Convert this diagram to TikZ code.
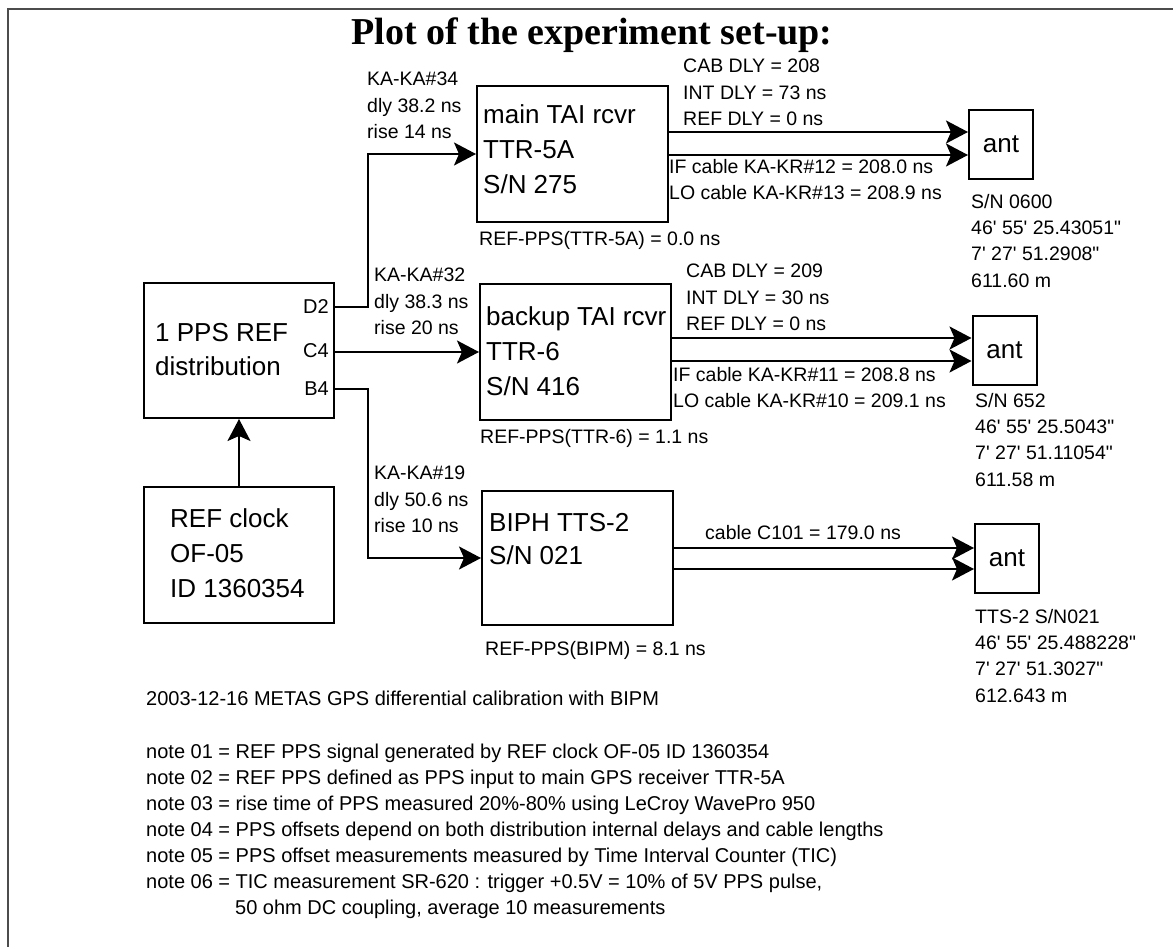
\documentclass[tikz,border=0pt]{standalone}
\usepackage{fontspec}
\newfontfamily\labfont{Liberation Sans}
\newfontfamily\titlefont{Liberation Serif}
\usetikzlibrary{arrows.meta}
\tikzset{
  box/.style={draw, line width=2pt, inner sep=0pt, minimum width=191pt, minimum height=136pt},
  antbox/.style={draw, line width=2pt, inner sep=0pt, minimum width=64pt, minimum height=69pt,
                 font=\labfont\fontsize{26}{30}\selectfont},
  lbl/.style={font=\labfont\fontsize{19.5}{26.3}\selectfont, inner sep=0pt, anchor=north west, align=left},
  big/.style={font=\labfont\fontsize{26}{35}\selectfont, inner sep=0pt, anchor=north west, align=left},
  port/.style={font=\labfont\fontsize{20}{24}\selectfont, inner sep=0pt, anchor=east},
  arr/.style={line width=2pt, -{Stealth[length=22pt,width=23pt,inset=5pt]}},
}
\begin{document}
\begin{tikzpicture}[x=1pt,y=-1pt]
\useasboundingbox (0,0) rectangle (1173,947);
\fill[white] (0,0) rectangle (1173,947);
\draw[line width=2pt, black!70] (8,947) -- (8,9) -- (1173,9);
\node[font=\titlefont\bfseries\fontsize{38}{42}\selectfont, anchor=base, inner sep=0pt] (title) at (592,45) {Plot of the experiment set-up:};

% boxes
\node[box] (main) at (572.5,154) {};
\node[box] (backup) at (575.5,352) {};
\node[box, minimum height=134pt] (bipm) at (577.5,558) {};
\node[box, minimum width=190pt, minimum height=135pt] (dist) at (239,350.5) {};
\node[box, minimum width=190pt] (clock) at (239,555) {};
\node[antbox] (ant1) at (1001,144.5) {ant};
\node[antbox] (ant2) at (1004.5,350) {ant};
\node[antbox] (ant3) at (1007,558.5) {ant};

% box texts
\node[big] (mainT) at (483,104) {main TAI rcvr\\TTR-5A\\S/N 275};
\node[big] (backupT) at (486,306) {backup TAI rcvr\\TTR-6\\S/N 416};
\node[big, font=\labfont\fontsize{26}{33}\selectfont] (bipmT) at (489,513) {BIPH TTS-2\\S/N 021};
\node[big, font=\labfont\fontsize{26}{34}\selectfont] (distT) at (155,323) {1 PPS REF\\distribution};
\node[big] (clockT) at (170,508) {REF clock\\OF-05\\ID 1360354};

% ports
\node[port] (lD2) at (329,307) {D2};
\node[port] (lC4) at (329,351) {C4};
\node[port] (lB4) at (329,389) {B4};

% labels
\node[lbl] (c34) at (367,72) {KA-KA\#34\\dly 38.2 ns\\rise 14 ns};
\node[lbl] (c32) at (374,268) {KA-KA\#32\\dly 38.3 ns\\rise 20 ns};
\node[lbl] (c19) at (374,466) {KA-KA\#19\\dly 50.6 ns\\rise 10 ns};
\node[lbl] (r1) at (479,231) {REF-PPS(TTR-5A) = 0.0 ns};
\node[lbl] (r2) at (480,429) {REF-PPS(TTR-6) = 1.1 ns};
\node[lbl] (r3) at (485,641) {REF-PPS(BIPM) = 8.1 ns};
\node[lbl] (cab1) at (683,59) {CAB DLY = 208\\INT DLY = 73 ns\\REF DLY = 0 ns};
\node[lbl] (if1) at (669,159) {IF cable KA-KR\#12 = 208.0 ns\\LO cable KA-KR\#13 = 208.9 ns};
\node[lbl] (cab2) at (686,264) {CAB DLY = 209\\INT DLY = 30 ns\\REF DLY = 0 ns};
\node[lbl] (if2) at (673,367) {IF cable KA-KR\#11 = 208.8 ns\\LO cable KA-KR\#10 = 209.1 ns};
\node[lbl] (c101) at (705,525) {cable C101 = 179.0 ns};
\node[lbl] (a1) at (971,194) {S/N 0600\\46' 55' 25.43051"\\7' 27' 51.2908"\\611.60 m};
\node[lbl] (a2) at (975,393) {S/N 652\\46' 55' 25.5043"\\7' 27' 51.11054"\\611.58 m};
\node[lbl] (a3) at (975,609) {TTS-2 S/N021\\46' 55' 25.488228"\\7' 27' 51.3027"\\612.643 m};

% notes
\node[lbl, font=\labfont\fontsize{20}{26}\selectfont] (date) at (146,691) {2003-12-16 METAS GPS differential calibration with BIPM};
\node[lbl, font=\labfont\fontsize{20}{26}\selectfont] (notes) at (146,744) {note 01 = REF PPS signal generated by REF clock OF-05 ID 1360354\\
note 02 = REF PPS defined as PPS input to main GPS receiver TTR-5A\\
note 03 = rise time of PPS measured 20\%-80\% using LeCroy WavePro 950\\
note 04 = PPS offsets depend on both distribution internal delays and cable lengths\\
note 05 = PPS offset measurements measured by Time Interval Counter (TIC)\\
note 06 = TIC measurement SR-620 : trigger +0.5V = 10\% of 5V PPS pulse,\\
\hspace*{89pt}50 ohm DC coupling, average 10 measurements};

% connectors
\coordinate (pD2) at (dist.east |- 0,307);
\coordinate (pB4) at (dist.east |- 0,389);
\draw[arr] (pD2) -- ++(33,0) |- (main.west);
\draw[arr] (dist.east |- backup.west) -- (backup.west);
\draw[arr] (pB4) -- ++(33,0) |- (bipm.west);
\draw[arr] (clock.north) -- (dist.south);

\draw[arr] (main.east |- 0,132) -- (ant1.west |- 0,132);
\draw[arr] (main.east |- 0,155) -- (ant1.west |- 0,155);
\draw[arr] (backup.east |- 0,338) -- (ant2.west |- 0,338);
\draw[arr] (backup.east |- 0,361) -- (ant2.west |- 0,361);
\draw[arr] (bipm.east |- 0,548) -- (ant3.west |- 0,548);
\draw[arr] (bipm.east |- 0,569) -- (ant3.west |- 0,569);
\end{tikzpicture}
\end{document}
